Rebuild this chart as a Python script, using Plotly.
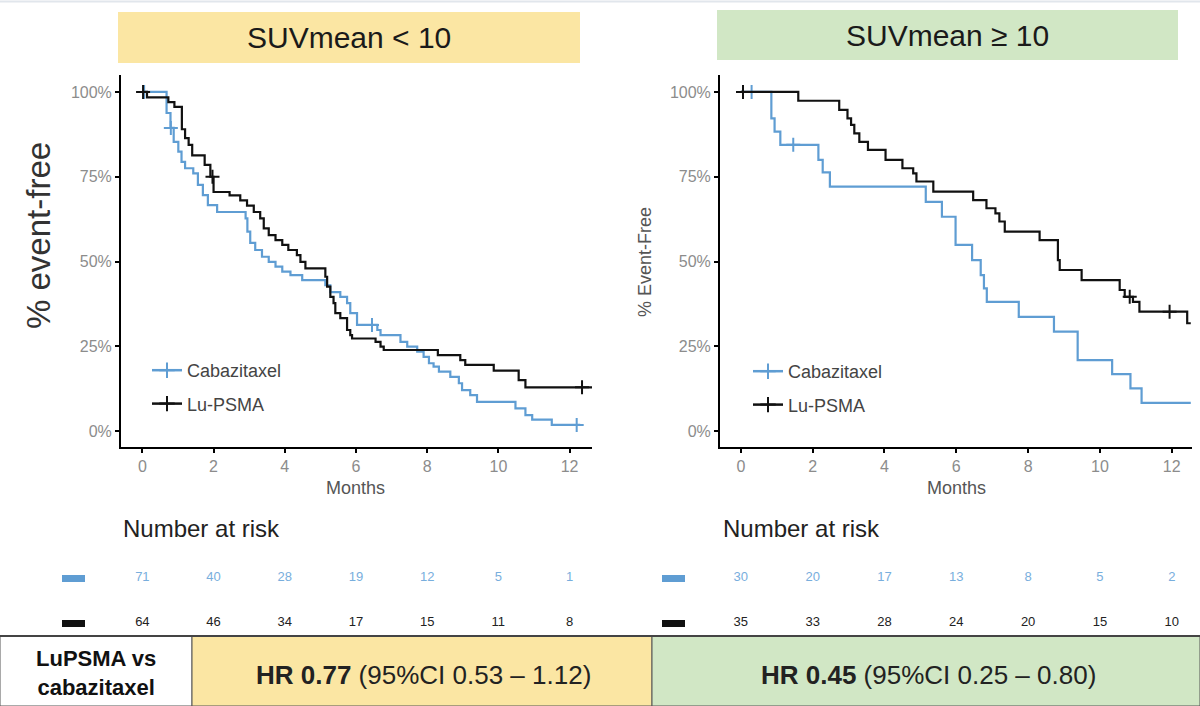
import plotly.graph_objects as go

W, H = 1200, 706

# ---------------- data ----------------
month_ticks = [0, 2, 4, 6, 8, 10, 12]
pct_ticks = [0, 25, 50, 75, 100]
pct_labels = ["0%", "25%", "50%", "75%", "100%"]
group_names = ["Cabazitaxel", "Lu-PSMA"]
panel_titles = ["SUVmean < 10", "SUVmean ≥ 10"]
y_titles = ["% event-free", "% Event-Free"]

# SUVmean < 10 : Cabazitaxel
low_cab_t = [0, 0.68, 0.79, 0.88, 1.01, 1.1, 1.2, 1.43, 1.56, 1.7,
             1.84, 2.1, 2.9, 2.95, 3.03, 3.17, 3.36, 3.55, 3.74, 3.93,
             4.16, 4.49, 5.14, 5.28, 5.56, 5.75, 5.84, 6.03, 6.6, 6.69,
             7.25, 7.44, 7.72, 7.9, 8.05, 8.18, 8.33, 8.65, 8.89, 8.98,
             9.21, 9.4, 10.48, 10.76, 10.95, 11.5, 12.3]
low_cab_s = [100, 93.8, 89.4, 85.3, 82.4, 79.4, 77.5, 76.0, 72.6, 69.6,
             66.6, 64.6, 62.7, 58.8, 55.5, 53.4, 51.4, 49.9, 48.5, 47.0,
             46.0, 44.5, 43.0, 41.0, 39.6, 37.7, 34.8, 31.3, 29.8, 28.3,
             26.3, 24.9, 23.4, 21.9, 20.0, 19.0, 17.5, 16.0, 14.1, 12.1,
             10.6, 8.6, 6.7, 4.7, 3.4, 1.8, 1.8]
low_cab_cens = [0.05, 0.8, 6.45, 12.2]

# SUVmean < 10 : Lu-PSMA
low_lu_t = [0, 0.13, 0.73, 0.9, 1.11, 1.2, 1.3, 1.4, 1.75, 1.91,
            2.0, 2.45, 2.75, 2.94, 3.13, 3.31, 3.41, 3.55, 3.74, 3.93,
            4.1, 4.34, 4.44, 4.58, 5.14, 5.19, 5.28, 5.37, 5.42, 5.56,
            5.75, 5.84, 5.89, 6.55, 6.69, 6.78, 8.3, 8.93, 9.07, 9.87,
            10.57, 10.76, 12.63]
low_lu_s = [100, 98.4, 97.0, 95.6, 89.0, 86.4, 84.4, 81.3, 78.5, 75.0,
            70.5, 69.5, 68.0, 66.5, 64.6, 62.7, 59.8, 57.8, 56.3, 54.9,
            53.4, 51.9, 49.9, 48.0, 45.5, 42.6, 39.6, 37.7, 34.8, 33.3,
            29.8, 28.3, 27.3, 26.3, 24.9, 23.9, 22.4, 20.9, 19.5, 17.8,
            15.0, 12.9, 12.9]
low_lu_cens = [0.02, 1.97, 12.35]

# SUVmean >= 10 : Cabazitaxel
high_cab_t = [0, 0.85, 0.94, 1.1, 2.16, 2.28, 2.48, 5.15, 5.6, 5.98,
              6.44, 6.68, 6.77, 6.85, 7.74, 8.72, 9.38, 10.34, 10.85, 11.16,
              12.53]
high_cab_s = [100, 92.2, 88.3, 84.4, 80.0, 76.3, 72.1, 67.6, 63.2, 54.9,
              50.4, 46.0, 42.1, 38.1, 33.7, 29.3, 20.9, 16.8, 12.6, 8.3,
              8.3]
high_cab_cens = [0.3, 1.46]

# SUVmean >= 10 : Lu-PSMA
high_lu_t = [0, 1.6, 2.74, 2.97, 3.07, 3.16, 3.3, 3.54, 4.03, 4.5,
             4.8, 4.89, 5.36, 6.47, 6.84, 7.09, 7.2, 7.35, 8.32, 8.83,
             8.88, 9.49, 10.55, 10.69, 10.92, 11.1, 12.43, 12.53]
high_lu_s = [100, 97.4, 94.7, 92.2, 90.3, 87.8, 85.3, 82.9, 80.0, 77.5,
             76.0, 73.6, 70.6, 68.1, 65.7, 64.2, 61.8, 58.8, 56.3, 50.4,
             47.5, 44.5, 41.6, 39.6, 38.1, 35.2, 31.8, 31.8]
high_lu_cens = [0.06, 10.83, 11.94]

# numbers at risk at month_ticks
low_risk_cab = [71, 40, 28, 19, 12, 5, 1]
low_risk_lu = [64, 46, 34, 17, 15, 11, 8]
high_risk_cab = [30, 20, 17, 13, 8, 5, 2]
high_risk_lu = [35, 33, 28, 24, 20, 15, 10]

hr_row_label = "<b>LuPSMA vs<br>cabazitaxel</b>"
hr_texts = ["<b>HR 0.77</b> (95%CI 0.53 – 1.12)",
            "<b>HR 0.45</b> (95%CI 0.25 – 0.80)"]

# ---------------- style ----------------
BLUE = "#5F9DD3"
BLUE_TXT = "#78AEDD"
BLACK = "#111111"
YELLOW = "#FBE6A3"
GREEN = "#D1E7C5"
FONT = "Liberation Sans, Arial, sans-serif"
TICK_GRAY = "#8C8C8C"


def px(x):
    return x / W


def py(y):
    return 1 - y / H


def step_value(ts, ss, t):
    v = ss[0]
    for ti, si in zip(ts, ss):
        if ti <= t:
            v = si
    return v


fig = go.Figure()

panels = [
    dict(xa="x", ya="y", xr="x3", yr="y3", leg="legend",
         cab=(low_cab_t, low_cab_s, low_cab_cens), lu=(low_lu_t, low_lu_s, low_lu_cens),
         risk=(low_risk_cab, low_risk_lu)),
    dict(xa="x2", ya="y2", xr="x4", yr="y4", leg="legend2",
         cab=(high_cab_t, high_cab_s, high_cab_cens), lu=(high_lu_t, high_lu_s, high_lu_cens),
         risk=(high_risk_cab, high_risk_lu)),
]

for p in panels:
    for (ts, ss, cens), col, name in [(p["cab"], BLUE, group_names[0]), (p["lu"], BLACK, group_names[1])]:
        fig.add_trace(go.Scatter(x=ts, y=ss, mode="lines", line=dict(color=col, width=2.2, shape="hv"),
                                 xaxis=p["xa"], yaxis=p["ya"], showlegend=False, hoverinfo="skip"))
        fig.add_trace(go.Scatter(x=cens, y=[step_value(ts, ss, c) for c in cens], mode="markers",
                                 marker=dict(symbol="cross-thin", size=10, line=dict(width=2, color=col), color=col),
                                 xaxis=p["xa"], yaxis=p["ya"], showlegend=False, hoverinfo="skip"))
    # legend entries
    for col, name in [(BLUE, group_names[0]), (BLACK, group_names[1])]:
        fig.add_trace(go.Scatter(x=[None], y=[None], mode="lines+markers", name=name,
                                 line=dict(color=col, width=2.5),
                                 marker=dict(symbol="cross-thin", size=11, line=dict(width=2, color=col), color=col),
                                 xaxis=p["xa"], yaxis=p["ya"], legend=p["leg"], legendgroup=p["leg"] + name))
    # risk table
    for row, vals, col in [(1, p["risk"][0], BLUE_TXT), (0, p["risk"][1], "#222222")]:
        fig.add_trace(go.Scatter(x=month_ticks, y=[row] * len(vals), text=[str(v) for v in vals],
                                 mode="text", textfont=dict(size=13, color=col, family=FONT),
                                 xaxis=p["xr"], yaxis=p["yr"], showlegend=False, hoverinfo="skip"))

axis_common = dict(showgrid=False, zeroline=False, showline=True, linecolor="black", linewidth=2,
                   ticks="outside", ticklen=4, tickwidth=2, tickcolor="black",
                   tickfont=dict(size=16, color=TICK_GRAY, family=FONT))

km_ydom = [py(447), py(75)]
left_xdom = [px(121), px(592)]
right_xdom = [px(720), px(1191.5)]
left_xrange = [-0.6, 12.63]
right_xrange = [-0.58, 12.55]
yrange = [-4.7, 105]
risk_ydom = [py(645.5), py(555.5)]

fig.update_layout(
    width=W, height=H, margin=dict(l=0, r=0, t=0, b=0),
    paper_bgcolor="white", plot_bgcolor="rgba(0,0,0,0)",
    font=dict(family=FONT),
    xaxis=dict(domain=left_xdom, range=left_xrange, anchor="y", tickmode="array", tickvals=month_ticks, **axis_common),
    yaxis=dict(domain=km_ydom, range=yrange, anchor="x", tickmode="array", tickvals=pct_ticks, ticktext=pct_labels, **axis_common),
    xaxis2=dict(domain=right_xdom, range=right_xrange, anchor="y2", tickmode="array", tickvals=month_ticks, **axis_common),
    yaxis2=dict(domain=km_ydom, range=yrange, anchor="x2", tickmode="array", tickvals=pct_ticks, ticktext=pct_labels, **axis_common),
    xaxis3=dict(domain=left_xdom, range=left_xrange, anchor="y3", visible=False),
    yaxis3=dict(domain=risk_ydom, range=[-0.5, 1.5], anchor="x3", visible=False),
    xaxis4=dict(domain=right_xdom, range=right_xrange, anchor="y4", visible=False),
    yaxis4=dict(domain=risk_ydom, range=[-0.5, 1.5], anchor="x4", visible=False),
    legend=dict(x=px(147), y=py(352), xanchor="left", yanchor="top", bgcolor="rgba(0,0,0,0)",
                font=dict(size=18, color="#444444", family=FONT), tracegroupgap=7, itemwidth=30),
    legend2=dict(x=px(748), y=py(353), xanchor="left", yanchor="top", bgcolor="rgba(0,0,0,0)",
                 font=dict(size=18, color="#444444", family=FONT), tracegroupgap=7, itemwidth=30),
)

shapes = []
annotations = []

# title boxes
for (x0, x1, y0, y1, col, title) in [(118, 580, 12, 63, YELLOW, panel_titles[0]),
                                     (717, 1178, 10, 60, GREEN, panel_titles[1])]:
    shapes.append(dict(type="rect", xref="paper", yref="paper", x0=px(x0), x1=px(x1), y0=py(y1), y1=py(y0),
                       fillcolor=col, line=dict(width=0), layer="below"))
    annotations.append(dict(xref="paper", yref="paper", x=px((x0 + x1) / 2), y=py((y0 + y1) / 2), text=title,
                            showarrow=False, font=dict(size=30, color="#1a1a1a", family=FONT),
                            xanchor="center", yanchor="middle"))

# y axis titles
annotations.append(dict(xref="paper", yref="paper", x=px(38), y=py(236), text=y_titles[0], textangle=-90,
                        showarrow=False, font=dict(size=33, color="#333333", family=FONT),
                        xanchor="center", yanchor="middle"))
annotations.append(dict(xref="paper", yref="paper", x=px(645), y=py(262), text=y_titles[1], textangle=-90,
                        showarrow=False, font=dict(size=18, color="#555555", family=FONT),
                        xanchor="center", yanchor="middle"))
# x axis titles
for xr in ["x", "x2"]:
    annotations.append(dict(xref=xr, yref="paper", x=6, y=py(488), text="Months", showarrow=False,
                            font=dict(size=18, color="#555555", family=FONT), xanchor="center", yanchor="middle"))

# number at risk headers and colour keys
for x_left, key_x in [(121, 62), (721, 662)]:
    annotations.append(dict(xref="paper", yref="paper", x=px(x_left), y=py(528), text="Number at risk",
                            showarrow=False, font=dict(size=24, color="#222222", family=FONT),
                            xanchor="left", yanchor="middle"))
    shapes.append(dict(type="rect", xref="paper", yref="paper", x0=px(key_x), x1=px(key_x + 23),
                       y0=py(582), y1=py(575), fillcolor=BLUE, line=dict(width=0)))
    shapes.append(dict(type="rect", xref="paper", yref="paper", x0=px(key_x), x1=px(key_x + 23),
                       y0=py(627), y1=py(620), fillcolor="#111111", line=dict(width=0)))

# HR banner
banner_top = 636
for (x0, x1, col) in [(0, 192, "white"), (192, 652, YELLOW), (652, 1200, GREEN)]:
    shapes.append(dict(type="rect", xref="paper", yref="paper", x0=px(x0), x1=px(x1), y0=0, y1=py(banner_top),
                       fillcolor=col, line=dict(color="#555555", width=1)))
shapes.append(dict(type="line", xref="paper", yref="paper", x0=0, x1=1, y0=py(banner_top), y1=py(banner_top),
                   line=dict(color="#444444", width=2)))
annotations.append(dict(xref="paper", yref="paper", x=px(96), y=py(673), text=hr_row_label, showarrow=False,
                        font=dict(size=22, color="#111111", family=FONT), xanchor="center", yanchor="middle"))
annotations.append(dict(xref="paper", yref="paper", x=px(423), y=py(675), text=hr_texts[0], showarrow=False,
                        font=dict(size=26, color="#222222", family=FONT), xanchor="center", yanchor="middle"))
annotations.append(dict(xref="paper", yref="paper", x=px(928), y=py(675), text=hr_texts[1], showarrow=False,
                        font=dict(size=26, color="#222222", family=FONT), xanchor="center", yanchor="middle"))

# faint top frame line
shapes.append(dict(type="line", xref="paper", yref="paper", x0=0, x1=1, y0=py(1.5), y1=py(1.5),
                   line=dict(color="#E1E6EC", width=2)))

fig.update_layout(shapes=shapes, annotations=annotations)

fig.write_html("out.html", config={"displayModeBar": False},
               post_script="document.body.style.margin='0';document.body.style.overflow='hidden';")
